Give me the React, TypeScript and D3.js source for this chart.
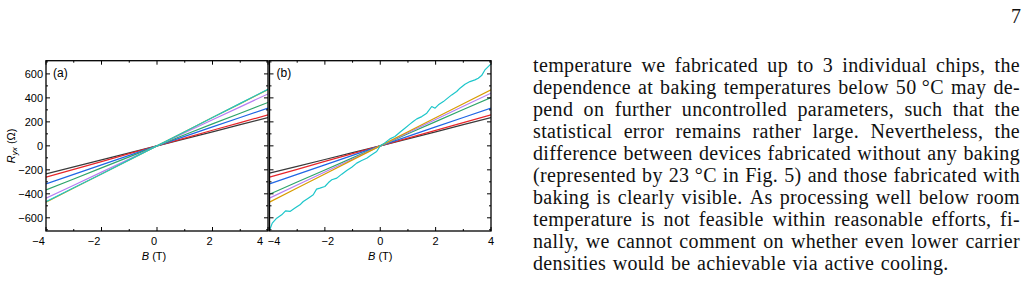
import React, { useEffect, useRef } from 'react';
import * as d3 from 'd3';

// Hall resistance sweeps, one value per tesla from -4 T to 4 T
const FIELD = [-4, -3, -2, -1, 0, 1, 2, 3, 4];

const A_BLACK = [-233, -175, -117, -58, 0, 58, 117, 177, 236];
const A_RED = [-261, -196, -131, -65, 0, 65, 130, 194, 258];
const A_BLUE = [-317, -238, -159, -79, 0, 79, 158, 236, 314];
const A_GREEN = [-367, -276, -184, -92, 0, 92, 183, 272, 362];
const A_PURPLE = [-436, -328, -219, -110, 0, 109, 218, 325, 433];
const A_ORANGE = [-469, -352, -235, -118, 0, 118, 236, 352, 470];
const A_CYAN = [-466, -350, -234, -117, 0, 118, 237, 354, 472];

const B_BLACK = [-228, -171, -114, -57, 0, 58, 117, 177, 236];
const B_RED = [-261, -196, -130, -65, 0, 65, 129, 194, 258];
const B_BLUE = [-317, -238, -159, -79, 0, 79, 158, 236, 314];
const B_GREEN = [-403, -302, -201, -100, 0, 101, 202, 303, 403];
const B_PURPLE = [-436, -327, -218, -109, 0, 110, 220, 330, 439];
const B_ORANGE = [-469, -352, -234, -117, 0, 117, 234, 351, 467];

// the noisy trace in panel (b) is sampled more densely
const B_CYAN_FIELD = [
  -3.98, -3.9, -3.74, -3.56, -3.42, -3.26, -3.08, -2.9, -2.78, -2.6, -2.42, -2.3, -2.18,
  -2.0, -1.87, -1.75, -1.57, -1.39, -1.21, -1.03, -0.85, -0.67, -0.49, -0.31, -0.13, 0,
  0.15, 0.35, 0.53, 0.71, 0.89, 1.07, 1.19, 1.32, 1.5, 1.68, 1.86, 1.98, 2.1, 2.28, 2.4,
  2.58, 2.76, 2.88, 3.06, 3.24, 3.42, 3.54, 3.66, 3.78, 3.9, 3.99,
];
const B_CYAN = [
  -694, -644, -603, -575, -542, -547, -519, -492, -464, -436, -408, -361, -353,
  -339, -306, -283, -269, -236, -206, -178, -144, -122, -103, -75, -47, 0,
  22, 58, 78, 114, 147, 181, 203, 225, 244, 272, 328, 314, 342, 369, 392,
  425, 453, 481, 514, 536, 550, 564, 586, 633, 661, 681,
];

const SERIES_COLORS = ['#3a3a3a', '#e8262b', '#1f66e5', '#2ea56b', '#b77ef2', '#d89c00', '#1cc6ca'];

const X_MAJOR = [-4, -2, 0, 2, 4];
const X_MINOR = [-3, -1, 1, 3];
const Y_MAJOR = [-600, -400, -200, 0, 200, 400, 600];
const Y_MINOR = [-700, -500, -300, -100, 100, 300, 500, 700];

const BODY_LINES = [
  'temperature we fabricated up to 3 individual chips, the',
  'dependence at baking temperatures below 50\u00a0°C may de-',
  'pend on further uncontrolled parameters, such that the',
  'statistical error remains rather large. Nevertheless, the',
  'difference between devices fabricated without any baking',
  '(represented by 23\u00a0°C in Fig. 5) and those fabricated with',
  'baking is clearly visible. As processing well below room',
  'temperature is not feasible within reasonable efforts, fi-',
  'nally, we cannot comment on whether even lower carrier',
  'densities would be achievable via active cooling.',
];

const W = 1028;
const H = 290;
const TOP = 60.7;
const BOTTOM = 231;
const SANS = "'Liberation Sans', Arial, sans-serif";
const SERIF = "'Liberation Serif', 'Times New Roman', serif";

interface PanelSpec {
  key: string;
  label: string;
  left: number;
  right: number;
  showY: boolean;
  lines: { x: number[]; y: number[] }[];
  labelShift: (v: number) => number;
}

const App: React.FC = () => {
  const svgRef = useRef<SVGSVGElement>(null);

  useEffect(() => {
    if (!svgRef.current) return;
    const svg = d3.select(svgRef.current);
    svg.selectAll('*').remove();

    const y = d3.scaleLinear().domain([-710, 710]).range([BOTTOM, TOP]);

    const panels: PanelSpec[] = [
      {
        key: 'a', label: '(a)', left: 46, right: 268, showY: true,
        lines: [A_BLACK, A_RED, A_BLUE, A_GREEN, A_PURPLE, A_ORANGE, A_CYAN].map(v => ({ x: FIELD, y: v })),
        labelShift: v => (v === -4 || v === -2 ? -7.5 : v === 4 ? -8 : -3),
      },
      {
        key: 'b', label: '(b)', left: 269.5, right: 491, showY: false,
        lines: [
          ...[B_BLACK, B_RED, B_BLUE, B_GREEN, B_PURPLE, B_ORANGE].map(v => ({ x: FIELD, y: v })),
          { x: B_CYAN_FIELD, y: B_CYAN },
        ],
        labelShift: v => (v === -4 ? 4.5 : v === -2 ? 3 : 0),
      },
    ];

    panels.forEach(p => {
      const x = d3.scaleLinear().domain([-4, 4]).range([p.left, p.right]);
      const g = svg.append('g');

      g.append('clipPath').attr('id', `clip-${p.key}`)
        .append('rect')
        .attr('x', p.left).attr('y', TOP)
        .attr('width', p.right - p.left).attr('height', BOTTOM - TOP);

      const line = d3.line<[number, number]>()
        .x(d => x(d[0]))
        .y(d => y(d[1]));

      const plot = g.append('g').attr('clip-path', `url(#clip-${p.key})`);
      p.lines.forEach((s, i) => {
        const pts = s.x.map((b, j) => [b, s.y[j]] as [number, number]);
        plot.append('path')
          .attr('d', line(pts))
          .attr('fill', 'none')
          .attr('stroke', SERIES_COLORS[i])
          .attr('stroke-width', 1.2)
          .attr('stroke-linejoin', 'round');
      });

      // inward ticks on all four sides
      const ticks = g.append('g').attr('stroke', '#000').attr('stroke-width', 1);
      const xt = [...X_MAJOR.map(v => [v, 4]), ...X_MINOR.map(v => [v, 2])];
      xt.forEach(([v, len]) => {
        ticks.append('line').attr('x1', x(v)).attr('x2', x(v)).attr('y1', BOTTOM).attr('y2', BOTTOM - len);
        ticks.append('line').attr('x1', x(v)).attr('x2', x(v)).attr('y1', TOP).attr('y2', TOP + len);
      });
      const yt = [...Y_MAJOR.map(v => [v, 4]), ...Y_MINOR.map(v => [v, 2])];
      yt.forEach(([v, len]) => {
        ticks.append('line').attr('x1', p.left).attr('x2', p.left + len).attr('y1', y(v)).attr('y2', y(v));
        ticks.append('line').attr('x1', p.right).attr('x2', p.right - len).attr('y1', y(v)).attr('y2', y(v));
      });

      g.append('rect')
        .attr('x', p.left).attr('y', TOP)
        .attr('width', p.right - p.left).attr('height', BOTTOM - TOP)
        .attr('fill', 'none').attr('stroke', '#000').attr('stroke-width', 1.3);

      const xl = g.append('g').attr('font-family', SANS).attr('font-size', 11).attr('text-anchor', 'middle');
      X_MAJOR.forEach(v => {
        xl.append('text')
          .attr('x', x(v) + p.labelShift(v)).attr('y', 245)
          .text(d3.format('')(v).replace('-', '\u2212'));
      });

      const title = g.append('text')
        .attr('x', (p.left + p.right) / 2 - (p.key === 'a' ? 3 : 0)).attr('y', 260)
        .attr('font-family', SANS).attr('font-size', 11).attr('text-anchor', 'middle');
      title.append('tspan').attr('font-style', 'italic').text('B');
      title.append('tspan').text(' (T)');

      g.append('text')
        .attr('x', p.left + 7).attr('y', 76.5)
        .attr('font-family', SANS).attr('font-size', 12)
        .text(p.label);

      if (p.showY) {
        const yl = g.append('g').attr('font-family', SANS).attr('font-size', 11).attr('text-anchor', 'end');
        Y_MAJOR.forEach(v => {
          yl.append('text')
            .attr('x', p.left - 3).attr('y', y(v) + 4)
            .text(d3.format('')(v).replace('-', '\u2212'));
        });
        const ylab = g.append('text')
          .attr('transform', `translate(15,${y(0)}) rotate(-90)`)
          .attr('font-family', SANS).attr('font-size', 11).attr('text-anchor', 'middle');
        ylab.append('tspan').attr('font-style', 'italic').text('R');
        ylab.append('tspan').attr('font-style', 'italic').attr('font-size', 8).attr('dy', 2).text('yx');
        ylab.append('tspan').attr('dy', -2).text(' (\u03a9)');
      }
    });

    // justified paragraph in the right-hand column
    const textLeft = 533;
    const textRight = 1020;
    const body = svg.append('g')
      .attr('font-family', SERIF).attr('font-size', 20)
      .attr('letter-spacing', 0.35).attr('fill', '#111');
    BODY_LINES.forEach((ln, i) => {
      const baseline = 71.5 + i * 22.1;
      const words = ln.split(' ');
      const nodes = words.map(w => body.append('text').attr('y', baseline).text(w));
      const widths = nodes.map(n => (n.node() as SVGTextElement).getComputedTextLength());
      const total = d3.sum(widths);
      const last = i === BODY_LINES.length - 1;
      const gap = last ? 6.5 : (textRight - textLeft - total) / (words.length - 1);
      let cx = textLeft;
      nodes.forEach((n, j) => {
        n.attr('x', cx);
        cx += widths[j] + gap;
      });
    });

    svg.append('text')
      .attr('x', 1021).attr('y', 23)
      .attr('text-anchor', 'end')
      .attr('font-family', SERIF).attr('font-size', 20).attr('fill', '#111')
      .text('7');
  }, []);

  return (
    <svg
      ref={svgRef}
      width={W}
      height={H}
      style={{ position: 'absolute', left: 0, top: 0, background: '#fff' }}
    />
  );
};

export default App;
